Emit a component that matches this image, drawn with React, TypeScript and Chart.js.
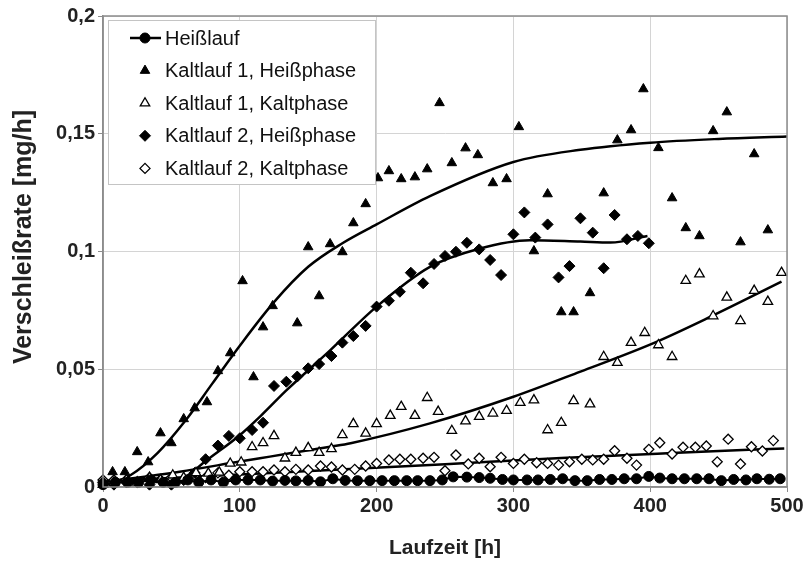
import React, { useEffect, useRef } from "react";
import { Chart, registerables } from "chart.js";

Chart.register(...registerables);

// ---------- data ----------
const xTicks = [0, 100, 200, 300, 400, 500];
const yTicks = [0, 0.05, 0.1, 0.15, 0.2];

const seriesLabels = [
  "Heißlauf",
  "Kaltlauf 1, Heißphase",
  "Kaltlauf 1, Kaltphase",
  "Kaltlauf 2, Heißphase",
  "Kaltlauf 2, Kaltphase",
];

// Heißlauf (filled circles, connected)
const heisslaufX = [0, 9, 18, 26, 35, 44, 53, 62, 70, 79, 88, 97, 106, 115, 124, 133, 141, 150, 159, 168, 177, 186, 195, 204, 213, 222, 230, 239, 248, 256, 266, 275, 283, 292, 300, 310, 318, 327, 336, 345, 354, 363, 372, 381, 390, 399, 407, 416, 425, 434, 443, 452, 461, 470, 478, 487, 495];
const heisslaufY = [0.001, 0.002, 0.002, 0.002, 0.003, 0.002, 0.002, 0.003, 0.002, 0.003, 0.002, 0.003, 0.003, 0.003, 0.0025, 0.0028, 0.0026, 0.0028, 0.0022, 0.0035, 0.0028, 0.0027, 0.0027, 0.0027, 0.0027, 0.0027, 0.0027, 0.0027, 0.003, 0.0043, 0.0042, 0.004, 0.0037, 0.0032, 0.003, 0.003, 0.003, 0.0032, 0.0035, 0.0027, 0.0027, 0.0032, 0.0032, 0.0035, 0.0035, 0.0045, 0.0038, 0.0035, 0.0035, 0.0035, 0.0035, 0.0027, 0.0032, 0.003, 0.0035, 0.0033, 0.0035];

// Kaltlauf 1, Heißphase (filled triangles)
const k1HeissX = [0, 7, 16, 25, 33, 42, 50, 59, 67, 76, 84, 93, 102, 110, 117, 124, 142, 150, 158, 166, 175, 183, 192, 201, 209, 218, 228, 237, 246, 255, 265, 274, 285, 295, 304, 315, 325, 335, 344, 356, 366, 376, 386, 395, 406, 416, 426, 436, 446, 456, 466, 476, 486];
const k1HeissY = [0.001, 0.0064, 0.0064, 0.0149, 0.0106, 0.0229, 0.0187, 0.0289, 0.0335, 0.0361, 0.0493, 0.0569, 0.0875, 0.0467, 0.0679, 0.0769, 0.0696, 0.1019, 0.0811, 0.1032, 0.0998, 0.1121, 0.1202, 0.1312, 0.1342, 0.1308, 0.1316, 0.135, 0.1631, 0.1376, 0.1439, 0.141, 0.1291, 0.1308, 0.1529, 0.1002, 0.1244, 0.0743, 0.0743, 0.0824, 0.1248, 0.1473, 0.1516, 0.169, 0.144, 0.1227, 0.11, 0.1066, 0.1512, 0.1592, 0.104, 0.1414, 0.1091];

// Kaltlauf 1, Kaltphase (open triangles)
const k1KaltX = [0, 8, 17, 25, 34, 42, 51, 59, 68, 77, 85, 93, 101, 109, 117, 125, 133, 141, 150, 158, 167, 175, 183, 192, 200, 210, 218, 228, 237, 245, 255, 265, 275, 285, 295, 305, 315, 325, 335, 344, 356, 366, 376, 386, 396, 406, 416, 426, 436, 446, 456, 466, 476, 486, 496];
const k1KaltY = [0.001, 0.002, 0.003, 0.002, 0.004, 0.003, 0.005, 0.004, 0.006, 0.0058, 0.0062, 0.01, 0.0105, 0.017, 0.0187, 0.0217, 0.0122, 0.0146, 0.0166, 0.0146, 0.0162, 0.0221, 0.0268, 0.0228, 0.0268, 0.0303, 0.0341, 0.0303, 0.0379, 0.032, 0.0239, 0.028, 0.0299, 0.0313, 0.0324, 0.0358, 0.0369, 0.0242, 0.0273, 0.0366, 0.0352, 0.0553, 0.0528, 0.0613, 0.0655, 0.0603, 0.0553, 0.0876, 0.0904, 0.0726, 0.0805, 0.0705, 0.0834, 0.0787, 0.091];

// Kaltlauf 2, Heißphase (filled diamonds)
const k2HeissX = [0, 8, 17, 25, 34, 42, 50, 59, 67, 75, 84, 92, 100, 109, 117, 125, 134, 142, 150, 158, 167, 175, 183, 192, 200, 209, 217, 225, 234, 242, 250, 258, 266, 275, 283, 291, 300, 308, 316, 325, 333, 341, 349, 358, 366, 374, 383, 391, 399];
const k2HeissY = [0.002, 0.001, 0.002, 0.002, 0.001, 0.003, 0.001, 0.003, 0.006, 0.0118, 0.0176, 0.0217, 0.0207, 0.0242, 0.0273, 0.0429, 0.0447, 0.0469, 0.0504, 0.0522, 0.0556, 0.0613, 0.0641, 0.0684, 0.0766, 0.0791, 0.0829, 0.091, 0.0865, 0.0947, 0.0981, 0.0999, 0.1037, 0.1009, 0.0964, 0.09, 0.1073, 0.1166, 0.1059, 0.1115, 0.089, 0.0938, 0.1141, 0.108, 0.0929, 0.1155, 0.1052, 0.1066, 0.1035];

// Kaltlauf 2, Kaltphase (open diamonds)
const k2KaltX = [0, 8, 17, 25, 34, 42, 50, 59, 67, 75, 84, 92, 100, 109, 117, 125, 133, 141, 150, 159, 167, 175, 184, 192, 200, 209, 217, 225, 234, 242, 250, 258, 267, 275, 283, 291, 300, 308, 317, 325, 333, 341, 350, 358, 366, 374, 383, 390, 399, 407, 416, 424, 433, 441, 449, 457, 466, 474, 482, 490];
const k2KaltY = [0.003, 0.003, 0.003, 0.002, 0.004, 0.003, 0.004, 0.003, 0.005, 0.004, 0.006, 0.005, 0.0065, 0.0065, 0.0065, 0.0072, 0.0065, 0.0075, 0.0072, 0.0089, 0.0085, 0.0072, 0.0075, 0.0089, 0.01, 0.0115, 0.0118, 0.0118, 0.0122, 0.0126, 0.0069, 0.0136, 0.0098, 0.0122, 0.0086, 0.0126, 0.01, 0.0118, 0.0103, 0.01, 0.0093, 0.0107, 0.0118, 0.0115, 0.0118, 0.0154, 0.0122, 0.0093, 0.016, 0.0188, 0.014, 0.0169, 0.0169, 0.0174, 0.0107, 0.0203, 0.0098, 0.0171, 0.0153, 0.0197];

// Trend curves
const fitK1HeissX = [0, 20, 40, 60, 80, 100, 125, 150, 175, 200, 239, 300, 349, 400, 450, 500];
const fitK1HeissY = [0.0005, 0.005, 0.0145, 0.028, 0.044, 0.06, 0.0785, 0.0935, 0.1035, 0.1115, 0.1235, 0.138, 0.1432, 0.1462, 0.1478, 0.1488];
const fitK1KaltX = [0, 56, 100, 122, 166, 181, 239, 300, 349, 402, 444, 496];
const fitK1KaltY = [0.002, 0.0065, 0.0108, 0.0129, 0.0171, 0.0186, 0.027, 0.0383, 0.049, 0.061, 0.0723, 0.0872];
const fitK2HeissX = [50, 62, 75, 100, 115, 134, 166, 200, 239, 275, 312, 349, 371, 398];
const fitK2HeissY = [0.002, 0.005, 0.011, 0.022, 0.03, 0.041, 0.058, 0.0766, 0.0935, 0.1012, 0.1048, 0.1042, 0.1038, 0.1066];
const fitK2KaltX = [0, 100, 166, 250, 335, 420, 498];
const fitK2KaltY = [0.0025, 0.0053, 0.0072, 0.0097, 0.0123, 0.0145, 0.0164];

const zip = (xs: number[], ys: number[]) =>
  xs.slice(0, Math.min(xs.length, ys.length)).map((x, i) => ({ x, y: ys[i] }));

const fmtY = (v: number) => String(Number(v.toFixed(2))).replace(".", ",");

const FONT = "'Liberation Sans', Arial, sans-serif";

function marker(ctx: CanvasRenderingContext2D, style: string, r: number, x: number, y: number, fill: string, bw: number) {
  ctx.beginPath();
  if (style === "circle") {
    ctx.arc(x, y, r, 0, Math.PI * 2);
  } else if (style === "triangle") {
    const h = r * 1.5;
    const w = r * Math.sqrt(3);
    ctx.moveTo(x, y - r);
    ctx.lineTo(x + w / 2, y - r + h);
    ctx.lineTo(x - w / 2, y - r + h);
  } else {
    ctx.moveTo(x - r, y);
    ctx.lineTo(x, y - r);
    ctx.lineTo(x + r, y);
    ctx.lineTo(x, y + r);
  }
  ctx.closePath();
  ctx.fillStyle = fill;
  ctx.fill();
  ctx.strokeStyle = "#000";
  ctx.lineWidth = bw;
  ctx.stroke();
}

const framePlugin = {
  id: "frameAndTitles",
  afterDatasetsDraw(chart: any) {
    const { ctx, chartArea: a } = chart;
    ctx.save();
    ctx.strokeStyle = "#8c8c8c";
    ctx.lineWidth = 1.5;
    ctx.strokeRect(a.left, a.top, a.right - a.left, a.bottom - a.top);

    // legend box
    const lx = 108, ly = 20, lw = 267, lh = 164;
    ctx.fillStyle = "#ffffff";
    ctx.fillRect(lx, ly, lw, lh);
    ctx.strokeStyle = "#c4c4c4";
    ctx.lineWidth = 1;
    ctx.strokeRect(lx + 0.5, ly + 0.5, lw, lh);

    const items = chart.data.datasets.filter((d: any) => d.inLegend);
    items.forEach((d: any, i: number) => {
      const cy = 38 + i * 32.6;
      const cx = 145;
      if (d.showLine) {
        ctx.strokeStyle = "#000";
        ctx.lineWidth = 2.5;
        ctx.beginPath();
        ctx.moveTo(130, cy);
        ctx.lineTo(161, cy);
        ctx.stroke();
      }
      marker(ctx, d.pointStyle, d.pointRadius, cx, cy, d.pointBackgroundColor, d.pointBorderWidth);
      ctx.fillStyle = "#111";
      ctx.font = `20px ${FONT}`;
      ctx.textAlign = "left";
      ctx.textBaseline = "middle";
      ctx.fillText(d.label, 165, cy + 1);
    });
    ctx.restore();
  },
  afterDraw(chart: any) {
    const { ctx, chartArea: a } = chart;
    ctx.save();
    ctx.fillStyle = "#222";
    ctx.textAlign = "center";
    ctx.textBaseline = "middle";
    ctx.font = `bold 21px ${FONT}`;
    ctx.fillText("Laufzeit [h]", (a.left + a.right) / 2, 548);
    ctx.translate(24, 237);
    ctx.rotate(-Math.PI / 2);
    ctx.font = `bold 25px ${FONT}`;
    ctx.fillText("Verschleißrate [mg/h]", 0, 0);
    ctx.restore();
  },
};

export default function App() {
  const ref = useRef<HTMLCanvasElement | null>(null);

  useEffect(() => {
    document.body.style.margin = "0";
    const canvas = ref.current!;
    const scatterBase = {
      type: "scatter" as const,
      showLine: false,
      clip: false as any,
      borderColor: "#000",
      pointBorderColor: "#000",
      inLegend: true,
    };
    const fitBase = {
      type: "line" as const,
      showLine: true,
      pointRadius: 0,
      borderColor: "#000",
      borderWidth: 2.5,
      cubicInterpolationMode: "monotone" as const,
      fill: false,
      inLegend: false,
    };
    const chart = new Chart(canvas, {
      type: "scatter",
      data: {
        datasets: [
          {
            ...scatterBase,
            label: seriesLabels[0],
            data: zip(heisslaufX, heisslaufY),
            showLine: true,
            borderWidth: 2,
            pointStyle: "circle",
            pointRadius: 5,
            pointBorderWidth: 1,
            pointBackgroundColor: "#000",
          },
          {
            ...scatterBase,
            label: seriesLabels[1],
            data: zip(k1HeissX, k1HeissY),
            pointStyle: "triangle",
            pointRadius: 5.5,
            pointBorderWidth: 1,
            pointBackgroundColor: "#000",
          },
          {
            ...scatterBase,
            label: seriesLabels[2],
            data: zip(k1KaltX, k1KaltY),
            pointStyle: "triangle",
            pointRadius: 5.5,
            pointBorderWidth: 1.3,
            pointBackgroundColor: "#fff",
          },
          {
            ...scatterBase,
            label: seriesLabels[3],
            data: zip(k2HeissX, k2HeissY),
            pointStyle: "rectRot",
            pointRadius: 5.5,
            pointBorderWidth: 1,
            pointBackgroundColor: "#000",
          },
          {
            ...scatterBase,
            label: seriesLabels[4],
            data: zip(k2KaltX, k2KaltY),
            pointStyle: "rectRot",
            pointRadius: 5,
            pointBorderWidth: 1.3,
            pointBackgroundColor: "#fff",
          },
          { ...fitBase, label: "fit1", data: zip(fitK1HeissX, fitK1HeissY) },
          { ...fitBase, label: "fit2", data: zip(fitK1KaltX, fitK1KaltY) },
          { ...fitBase, label: "fit3", data: zip(fitK2HeissX, fitK2HeissY) },
          { ...fitBase, label: "fit4", data: zip(fitK2KaltX, fitK2KaltY) },
        ] as any,
      },
      options: {
        responsive: false,
        animation: false,
        devicePixelRatio: 1,
        layout: { padding: { top: 16, right: 19, left: 0, bottom: 0 } },
        plugins: { legend: { display: false }, tooltip: { enabled: false } },
        scales: {
          x: {
            type: "linear",
            min: 0,
            max: 500,
            afterBuildTicks: (s: any) => {
              s.ticks = xTicks.map((v) => ({ value: v }));
            },
            afterFit: (s: any) => {
              s.height = 86;
            },
            ticks: {
              color: "#222",
              font: { family: FONT, size: 20, weight: "bold" },
              padding: 2,
              maxRotation: 0,
            },
            grid: { color: "#d4d4d4", lineWidth: 1, tickColor: "#8c8c8c", tickLength: 5 },
            border: { color: "#8c8c8c", width: 1.5 },
          },
          y: {
            type: "linear",
            min: 0,
            max: 0.2,
            afterBuildTicks: (s: any) => {
              s.ticks = yTicks.map((v) => ({ value: v }));
            },
            afterFit: (s: any) => {
              s.width = 103;
            },
            ticks: {
              color: "#222",
              font: { family: FONT, size: 20, weight: "bold" },
              padding: 3,
              callback: (v: any) => fmtY(Number(v)),
            },
            grid: { color: "#d4d4d4", lineWidth: 1, tickColor: "#8c8c8c", tickLength: 5 },
            border: { color: "#8c8c8c", width: 1.5 },
          },
        },
      },
      plugins: [framePlugin],
    } as any);
    return () => chart.destroy();
  }, []);

  return (
    <canvas
      ref={ref}
      width={806}
      height={573}
      style={{ display: "block", width: "806px", height: "573px" }}
    />
  );
}
